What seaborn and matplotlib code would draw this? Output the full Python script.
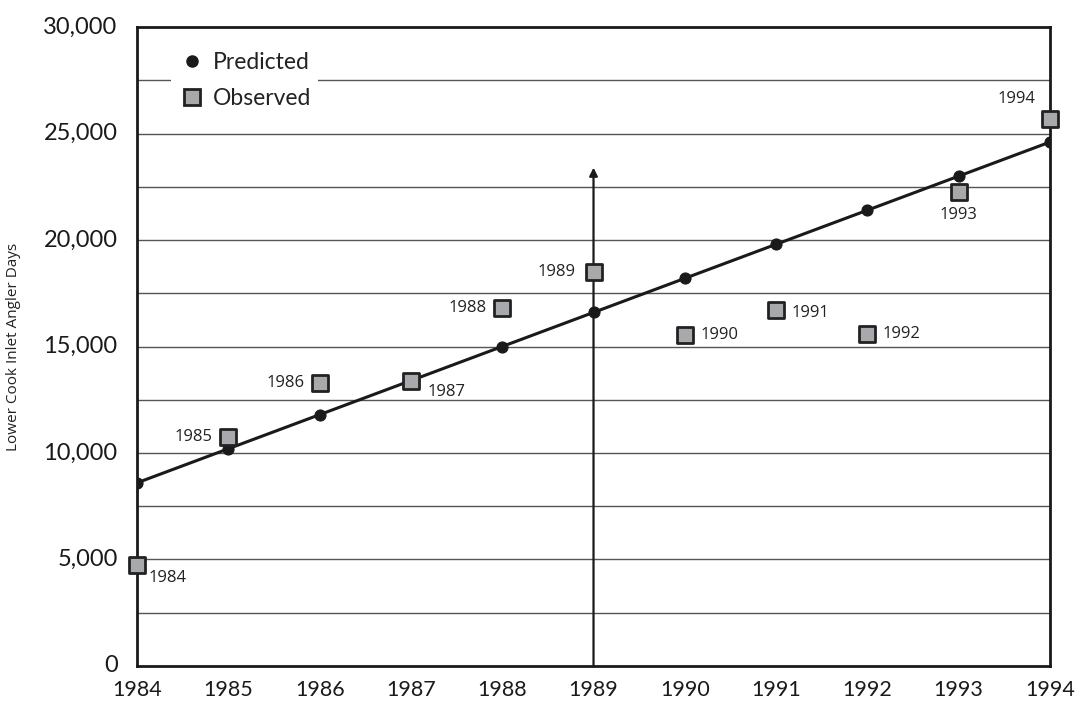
import pandas as pd
import matplotlib.pyplot as plt
from matplotlib.lines import Line2D
import seaborn as sns

# Chart data
years = [1984, 1985, 1986, 1987, 1988, 1989, 1990, 1991, 1992, 1993, 1994]
predicted = [8600, 10200, 11800, 13400, 15000, 16600, 18200, 19800, 21400, 23000, 24600]
observed = [4750, 10750, 13300, 13400, 16800, 18500, 15550, 16700, 15600, 22250, 25700]
y_ticks = [0, 5000, 10000, 15000, 20000, 25000, 30000]
arrow_year = 1989
arrow_top = 23400

df = pd.DataFrame({"year": years, "predicted": predicted, "observed": observed})

sns.set_style("white")
plt.rcParams["font.family"] = ["Lato", "DejaVu Sans"]

fig = plt.figure(figsize=(10.8, 7.04), dpi=100)
ax = fig.add_axes([0.1269, 0.054, 0.8453, 0.9076])

# gridlines every 2,500
for v in range(2500, 30000, 2500):
    ax.axhline(v, color="#555555", lw=1.0, zorder=0)

# vertical arrow at 1989
ax.annotate("", xy=(arrow_year, arrow_top), xytext=(arrow_year, 0),
            arrowprops=dict(arrowstyle="-|>", color="#1a1a1a", lw=1.6,
                            mutation_scale=12, shrinkA=0, shrinkB=0),
            zorder=2)

sns.lineplot(data=df, x="year", y="predicted", ax=ax, color="#1a1a1a", lw=2.2,
             marker="o", markersize=8, markeredgecolor="#1a1a1a",
             markerfacecolor="#1a1a1a", zorder=3)
sns.scatterplot(data=df, x="year", y="observed", ax=ax, marker="s", s=120,
                color="#a7a9ac", edgecolor="#222222", linewidth=2.0,
                zorder=4, clip_on=False)

# year labels next to observed points (offsets in points)
label_pos = {
    1984: (8, -9.5, "left"), 1985: (-11.5, 0, "right"), 1986: (-10.5, 0, "right"),
    1987: (12, -8, "left"), 1988: (-11.5, 0, "right"), 1989: (-13, 0, "right"),
    1990: (11.5, 0, "left"), 1991: (11, -2, "left"), 1992: (11, 0, "left"),
    1993: (0, -16.5, "center"), 1994: (-24, 14, "center"),
}
for yr, obs in zip(years, observed):
    dx, dy, ha = label_pos[yr]
    ax.annotate(str(yr), (yr, obs), xytext=(dx, dy), textcoords="offset points",
                ha=ha, va="center", fontsize=12, color="#222222",
                family=["Open Sans", "DejaVu Sans"], zorder=5)

ax.set_xlim(1984, 1994)
ax.set_ylim(0, 30000)
ax.set_xticks(years)
ax.set_yticks(y_ticks)
ax.set_yticklabels([f"{v:,}" for v in y_ticks])
ax.tick_params(axis="x", direction="out", length=6, width=1.2, color="#222222",
               labelsize=15.5, labelcolor="#1a1a1a", pad=4)
ax.tick_params(axis="y", length=0, labelsize=17, labelcolor="#1a1a1a", pad=14)
for lab in ax.get_yticklabels():
    lab.set_va("center")

ax.set_xlabel("")
ax.set_ylabel("Lower Cook Inlet Angler Days", fontsize=11, color="#222222",
              family=["Open Sans", "DejaVu Sans"])
ax.yaxis.set_label_coords(-0.127, 0.5)

for sp in ax.spines.values():
    sp.set_visible(True)
    sp.set_color("#1a1a1a")
    sp.set_linewidth(2.0)

handles = [
    Line2D([], [], ls="none", marker="o", markersize=8, color="#1a1a1a"),
    Line2D([], [], ls="none", marker="s", markersize=11, markerfacecolor="#a7a9ac",
           markeredgecolor="#222222", markeredgewidth=2.0),
]
leg = ax.legend(handles, ["Predicted", "Observed"], loc="upper left",
                bbox_to_anchor=(0.025, 0.99), frameon=True, fontsize=16.5,
                handletextpad=0.3, borderpad=0.3, labelspacing=0.68,
                handlelength=1.2, fancybox=False)
leg.get_frame().set_facecolor("white")
leg.get_frame().set_edgecolor("none")
leg.get_frame().set_alpha(1.0)
leg.set_zorder(6)
for t in leg.get_texts():
    t.set_color("#222222")

fig.savefig("out.png", dpi=100)
